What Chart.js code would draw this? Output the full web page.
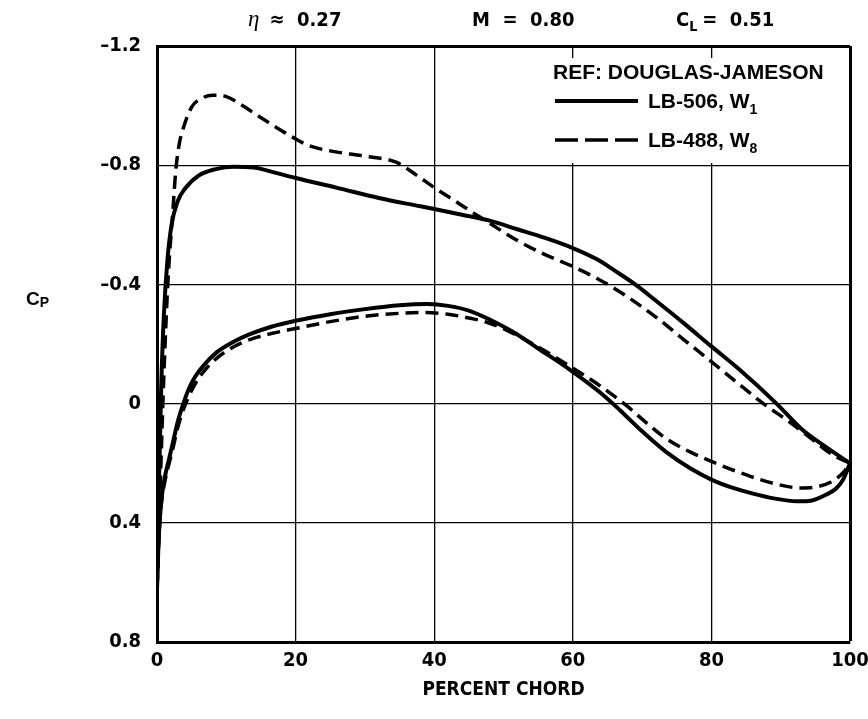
<!DOCTYPE html>
<html><head><meta charset="utf-8">
<script src="https://cdn.jsdelivr.net/npm/chart.js@4/dist/chart.umd.min.js"></script>
<style>html,body{margin:0;padding:0;background:#fff;}#wrap{width:868px;height:719px;}canvas{display:block;}</style>
</head><body>
<div id="wrap"><canvas id="c" width="868" height="719"></canvas></div>
<script>
// ---- data ----
const xTickValues = [0, 20, 40, 60, 80, 100];
const xTickLabels = ['0', '20', '40', '60', '80', '100'];
const yTickValues = [-1.2, -0.8, -0.4, 0, 0.4, 0.8];
const yTickLabels = ['–1.2', '–0.8', '–0.4', '0', '0.4', '0.8'];

// LB-506, W1 (solid) upper surface
const solidUpperX  = [0, 0.3, 0.6, 1.0, 1.5, 2.1, 3.0, 4.0, 6.0, 8.5, 11, 14, 17, 20, 26, 32, 38, 44, 48, 52, 56, 60, 63.5, 66, 69, 72, 76, 80, 84, 89.4, 93, 96.5, 100];
const solidUpperCp = [0.62, 0.25, -0.05, -0.3, -0.48, -0.6, -0.68, -0.72, -0.765, -0.787, -0.795, -0.792, -0.775, -0.757, -0.724, -0.69, -0.662, -0.634, -0.614, -0.585, -0.556, -0.522, -0.484, -0.447, -0.4, -0.345, -0.27, -0.192, -0.115, 0, 0.085, 0.145, 0.2];
// LB-506, W1 (solid) lower surface
const solidLowerX  = [0, 0.2, 0.4, 0.7, 1.1, 1.7, 2.3, 3.0, 3.8, 4.6, 5.5, 6.8, 8.6, 11, 13.4, 16.5, 20, 25, 30, 35, 39, 42, 45, 48, 51.4, 55, 59.8, 63.9, 66.8, 70, 73.5, 77, 80, 83, 86, 89, 92.3, 94.5, 96.6, 98, 99, 100];
const solidLowerCp = [0.62, 0.48, 0.39, 0.31, 0.25, 0.19, 0.13, 0.06, 0.0, -0.05, -0.09, -0.13, -0.172, -0.207, -0.233, -0.258, -0.278, -0.3, -0.317, -0.33, -0.334, -0.328, -0.312, -0.282, -0.24, -0.185, -0.11, -0.038, 0.022, 0.093, 0.163, 0.218, 0.255, 0.282, 0.302, 0.318, 0.328, 0.325, 0.305, 0.285, 0.255, 0.2];
// LB-488, W8 (dashed) upper surface
const dashUpperX  = [0, 0.5, 1.0, 1.6, 2.3, 2.7, 3.2, 3.8, 5.0, 6.5, 8, 10, 12, 14.5, 17, 19.5, 22, 25, 30, 34.5, 37.5, 40, 43, 47, 52.4, 56, 60, 63.5, 67, 72, 76, 80.3, 84, 87.5, 91, 94, 97.5, 100];
const dashUpperCp = [0.62, 0.25, -0.1, -0.42, -0.65, -0.78, -0.87, -0.925, -0.995, -1.025, -1.035, -1.03, -1.005, -0.967, -0.93, -0.895, -0.865, -0.848, -0.83, -0.81, -0.766, -0.725, -0.68, -0.62, -0.542, -0.5, -0.46, -0.42, -0.372, -0.29, -0.215, -0.135, -0.065, 0, 0.057, 0.11, 0.172, 0.2];
// LB-488, W8 (dashed) lower surface
const dashLowerX  = [0, 0.2, 0.4, 0.7, 1.1, 1.7, 2.3, 3.0, 3.8, 4.7, 5.6, 7, 8.6, 11, 13.4, 16.5, 20, 25, 30, 35, 38, 42, 45, 47.6, 51, 55, 59.8, 63.9, 67.8, 70.5, 73.5, 77, 80, 85.6, 89, 92.8, 95, 97.1, 99, 100];
const dashLowerCp = [0.62, 0.49, 0.40, 0.32, 0.265, 0.205, 0.15, 0.08, 0.02, -0.03, -0.07, -0.115, -0.152, -0.19, -0.215, -0.235, -0.252, -0.275, -0.293, -0.303, -0.306, -0.3, -0.287, -0.273, -0.24, -0.19, -0.122, -0.06, 0.008, 0.062, 0.118, 0.163, 0.194, 0.244, 0.268, 0.283, 0.28, 0.265, 0.232, 0.2];

const legendTitle = 'REF: DOUGLAS-JAMESON';
const seriesNames = ['LB-506, W', 'LB-488, W'];
const seriesSubs = ['1', '8'];
const xTitle = 'PERCENT CHORD';

// ---- build ----
const pts = (xs, ys) => xs.map((x, i) => ({x: x, y: ys[i]}));
const NARROW = "'Liberation Sans Narrow','DejaVu Sans Condensed','Liberation Sans',sans-serif";
const SANS = "'Liberation Sans','Arial',sans-serif";
const SOLID_W = 4, DASH_W = 3.5, DASH = [13, 7];

function runs(ctx, x, y, list) {
  list.forEach(r => {
    ctx.font = r.font;
    ctx.fillText(r.text, x, y + (r.dy || 0));
    x += ctx.measureText(r.text).width + (r.gap || 0);
  });
}

const annot = {
  id: 'annot',
  beforeDatasetsDraw(chart) {
    const ctx = chart.ctx;
    ctx.save();
    ctx.fillStyle = '#fff';
    ctx.fillRect(540, 58, 306, 105);
    ctx.restore();
  },
  afterDraw(chart) {
    const ctx = chart.ctx;
    const xs = chart.scales.x;
    ctx.save();
    ctx.fillStyle = '#000';
    ctx.strokeStyle = '#000';
    ctx.textBaseline = 'alphabetic';
    ctx.textAlign = 'left';
    // top title
    const tf = 'bold 20px ' + NARROW;
    runs(ctx, 248, 26, [{text: 'η', font: 'italic 23px "Liberation Serif",serif', gap: 10}, {text: '≈  0.27', font: tf}]);
    runs(ctx, 472, 26, [{text: 'M  =  0.80', font: tf}]);
    runs(ctx, 676, 26, [{text: 'C', font: tf}, {text: 'L', font: 'bold 14px ' + NARROW, dy: 5, gap: 5}, {text: '=  0.51', font: tf}]);
    // y axis label
    runs(ctx, 26, 305, [{text: 'C', font: 'bold 19px ' + SANS}, {text: 'P', font: 'bold 14px ' + SANS, dy: 2}]);
    // x axis title
    ctx.textAlign = 'center';
    ctx.font = 'bold 19px ' + NARROW;
    ctx.fillText(xTitle, (xs.left + xs.right) / 2, 695);
    ctx.textAlign = 'left';
    // legend
    ctx.font = 'bold 21px ' + SANS;
    ctx.fillText(legendTitle, 553, 79);
    const rows = [{y: 101, dash: [], w: SOLID_W}, {y: 140, dash: [23, 7], w: DASH_W}];
    rows.forEach((r, i) => {
      ctx.beginPath();
      ctx.setLineDash(r.dash);
      ctx.lineWidth = r.w;
      ctx.moveTo(555, r.y);
      ctx.lineTo(638, r.y);
      ctx.stroke();
      ctx.setLineDash([]);
      runs(ctx, 648, r.y + 7, [{text: seriesNames[i], font: 'bold 21px ' + SANS}, {text: seriesSubs[i], font: 'bold 14px ' + SANS, dy: 6}]);
    });
    ctx.restore();
  }
};

const ds = (label, data, dashed) => ({
  label: label,
  data: data,
  showLine: true,
  borderColor: '#000',
  backgroundColor: '#000',
  borderWidth: dashed ? DASH_W : SOLID_W,
  borderDash: dashed ? DASH : [],
  pointRadius: 0,
  fill: false,
  cubicInterpolationMode: 'monotone',
  borderCapStyle: 'butt',
  borderJoinStyle: 'round'
});

new Chart(document.getElementById('c'), {
  type: 'scatter',
  data: {
    datasets: [
      ds('LB-506 upper', pts(solidUpperX, solidUpperCp), false),
      ds('LB-506 lower', pts(solidLowerX, solidLowerCp), false),
      ds('LB-488 upper', pts(dashUpperX, dashUpperCp), true),
      ds('LB-488 lower', pts(dashLowerX, dashLowerCp), true)
    ]
  },
  options: {
    responsive: false,
    animation: false,
    layout: {padding: {left: 0, right: 18, top: 46, bottom: 0}},
    plugins: {legend: {display: false}, tooltip: {enabled: false}, title: {display: false}},
    scales: {
      x: {
        type: 'linear', min: 0, max: 100,
        afterBuildTicks: s => { s.ticks = xTickValues.map(v => ({value: v})); },
        afterFit: s => { s.height = 77; s.paddingRight = 0; s.paddingLeft = 0; },
        ticks: {
          callback: (v, i) => xTickLabels[i],
          color: '#000', padding: 7,
          font: {family: NARROW, size: 20, weight: 'bold'},
          maxRotation: 0
        },
        grid: {
          color: '#000', drawTicks: false,
          lineWidth: c => (c.tick && c.tick.value === 100 ? 3 : 1.3)
        },
        border: {display: true, color: '#000', width: 3}
      },
      y: {
        type: 'linear', min: -1.2, max: 0.8, reverse: true,
        afterBuildTicks: s => { s.ticks = yTickValues.map(v => ({value: v})); },
        afterFit: s => { s.width = 157; s.paddingTop = 0; s.paddingBottom = 0; },
        ticks: {
          callback: (v, i) => yTickLabels[i],
          color: '#000', padding: 16,
          font: {family: NARROW, size: 20, weight: 'bold'}
        },
        grid: {
          color: '#000', drawTicks: false,
          lineWidth: c => (c.tick && Math.abs(c.tick.value + 1.2) < 1e-6 ? 3 : 1.3)
        },
        border: {display: true, color: '#000', width: 3}
      }
    }
  },
  plugins: [annot]
});
</script>
</body></html>
